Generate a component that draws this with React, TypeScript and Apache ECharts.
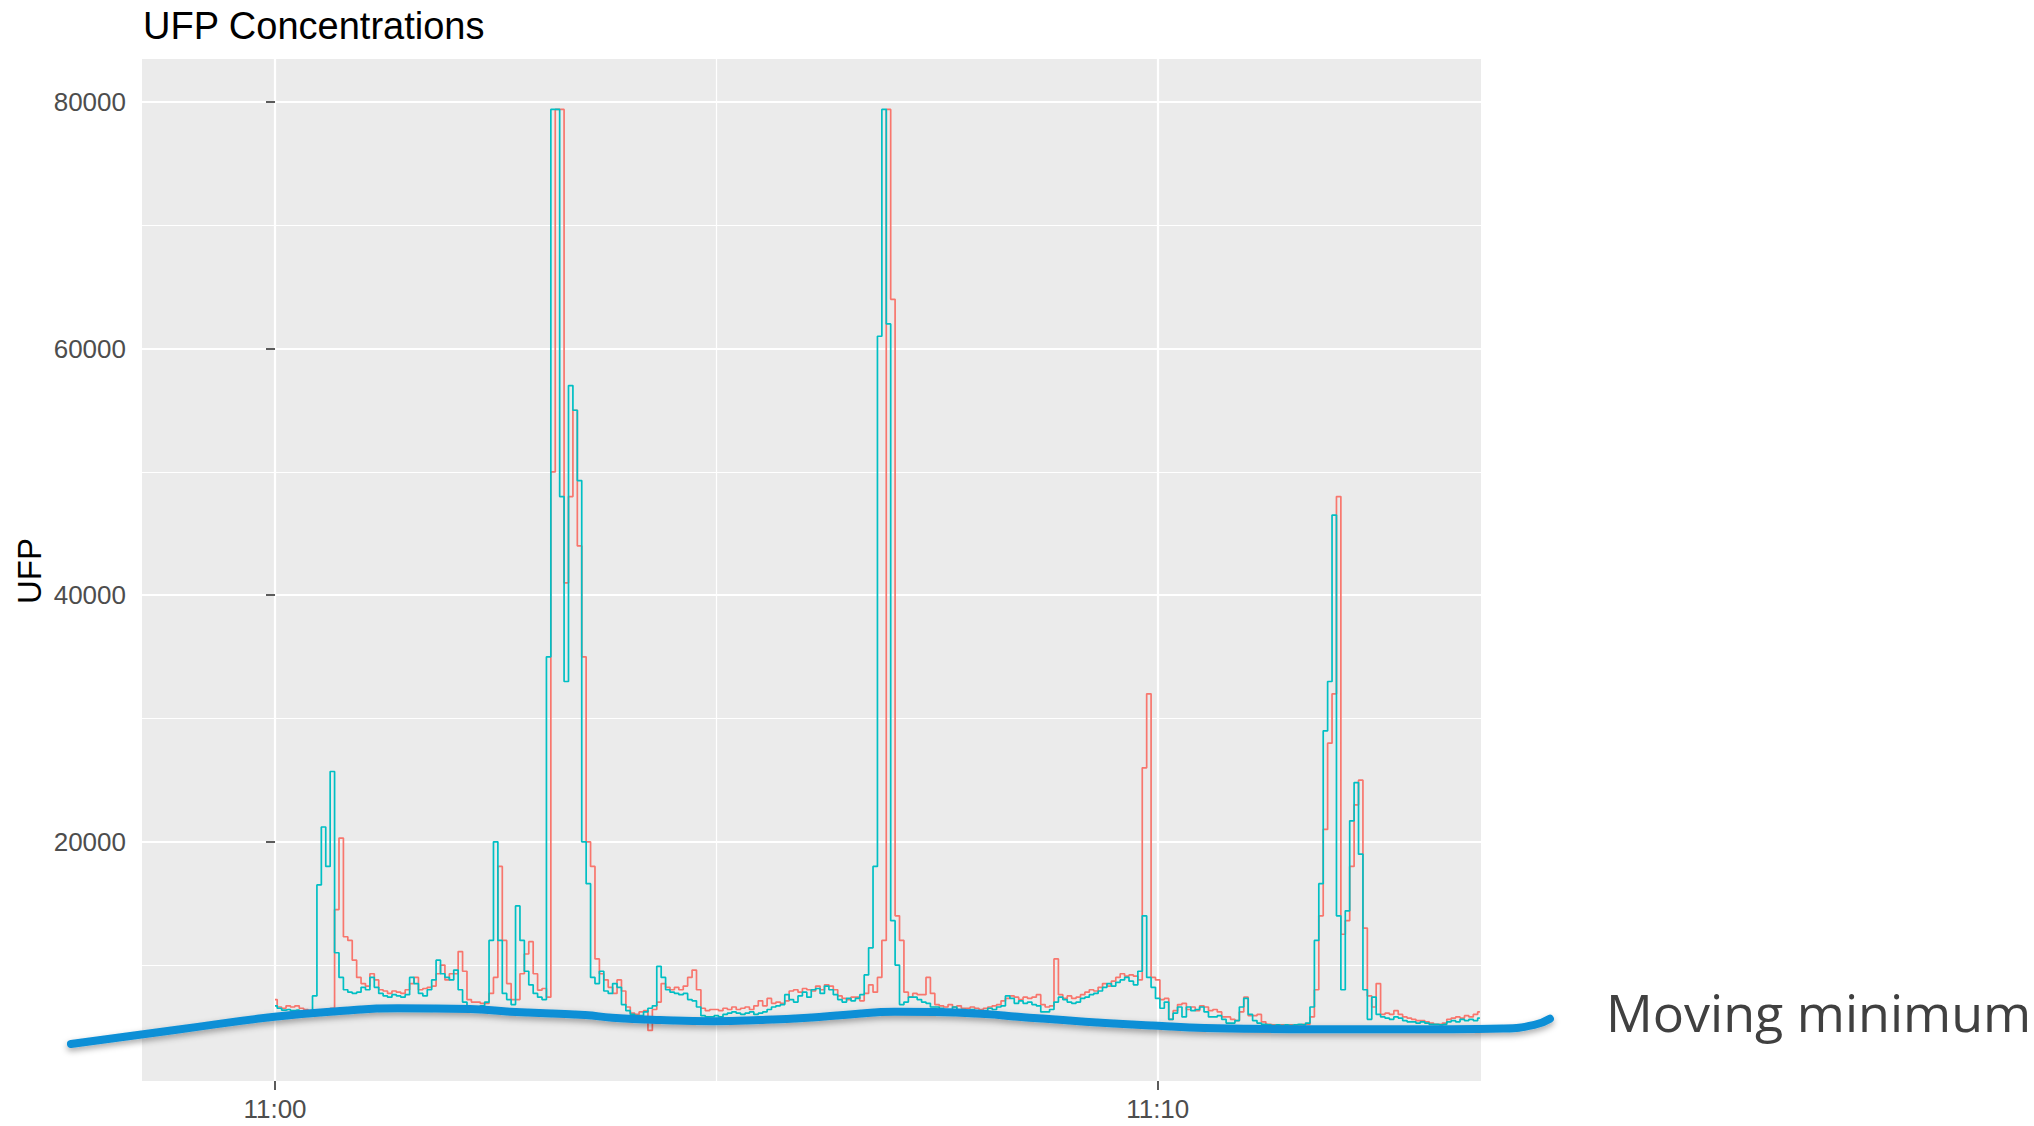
import React, { useEffect, useRef } from 'react';
import * as echarts from 'echarts';

// Sampling grid of the two UFP series: seconds after 11:00:00, every 3 s
const SAMPLE_STEP_S = 3;

// Red series (first sensor)
const redUFP = [
  7200, 6600, 6500, 6700, 6600, 6700, 6500, 6400, 6300, 6300,
  6200, 6200, 6300, 6500, 14500, 20300, 12300, 12000, 10400, 9000,
  8500, 8300, 9300, 8800, 8000, 7900, 7700, 7900, 7800, 7700,
  8000, 8500, 9000, 8000, 8100, 8200, 8300, 9300, 10000, 8800,
  9300, 9300, 11100, 9500, 7200, 7000, 7000, 6900, 6900, 7700,
  9000, 18000, 12000, 8500, 7200, 7200, 9300, 10900, 11900, 9300,
  7970, 8100, 7400, 50000, 79400, 79400, 41000, 48000, 55000, 44000,
  35000, 20000, 18000, 10500, 9300, 8800, 8200, 7700, 8800, 7900,
  6600, 6100, 6000, 6200, 6300, 4700, 6400, 7000, 8500, 8200,
  8000, 8200, 8000, 8300, 9000, 9600, 8000, 6500, 6300, 6400,
  6400, 6300, 6500, 6400, 6600, 6400, 6500, 6600, 6400, 6700,
  7100, 6700, 7300, 6900, 7000, 6900, 7100, 7900, 8000, 7800,
  8100, 8000, 7900, 8300, 8000, 8400, 8300, 8000, 7500, 7300,
  7200, 7400, 7400, 7100, 7700, 8400, 7800, 9000, 12000, 79400,
  64000, 14000, 12000, 7800, 7400, 7700, 7600, 7600, 9000, 7700,
  6800, 6700, 6600, 6800, 6600, 6700, 6500, 6500, 6600, 6500,
  6400, 6500, 6600, 6700, 6800, 7100, 7300, 7500, 7400, 7200,
  7400, 7300, 7400, 7600, 6800, 6600, 6700, 10500, 7600, 7300,
  7500, 7300, 7400, 7600, 7800, 8000, 7900, 8200, 8500, 8300,
  8700, 9000, 9300, 9100, 9200, 9100, 8800, 26000, 32000, 9000,
  8800, 7200, 7300, 5600, 6300, 6800, 6900, 6400, 6600, 6300,
  6700, 6600, 6300, 6400, 6200, 5800, 5800, 5600, 5500, 6200,
  7400, 5900, 5900, 6000, 5400, 5200, 5150, 5100, 5150, 5100,
  5150, 5100, 5150, 5200, 5200, 5800, 8000, 14000, 21000, 28000,
  32000, 48000, 12500, 13600, 18000, 23000, 25000, 13000, 7500, 6600,
  8500, 6000, 6100, 6000, 6300, 6000, 5800, 5700, 5600, 5500,
  5500, 5400, 5300, 5200, 5200, 5300, 5600, 5700, 5800, 5700,
  5900, 5800, 6000, 6200,
];

// Teal series (second sensor)
const tealUFP = [
  6700, 6500, 6350, 6400, 6300, 6350, 6250, 6200, 6150, 7500,
  16500, 21200, 18000, 25700, 11000, 9000, 8000, 7800, 7700, 7800,
  8200, 8000, 9000, 8200, 7700, 7500, 7400, 7600, 7500, 7400,
  7600, 9000, 8500, 7700, 7500, 8000, 8800, 10400, 9300, 9000,
  8800, 9600, 8000, 7000, 6600, 6600, 6600, 6700, 7000, 12000,
  20000, 12000, 7700, 7200, 6800, 14800, 12000, 9500, 8400, 7700,
  7400, 7200, 35000, 79400, 79400, 48000, 33000, 57000, 55000, 49300,
  20000, 16600, 9000, 8500, 9500, 7900, 7700, 8500, 8200, 6800,
  6300, 6000, 5900, 5900, 6200, 6500, 6700, 9900, 9000, 8000,
  7800, 7700, 7600, 7700, 7200, 7100, 6600, 5900, 5800, 5800,
  5900, 5800, 6000, 6100, 6200, 6100, 6000, 6100, 6200, 6000,
  6100, 6200, 6400, 6600, 6700, 6800, 7600, 7200, 7000, 7500,
  7800, 7400, 8000, 8100, 7700, 8300, 8000, 7600, 7200, 7000,
  7300, 7100, 7300, 7600, 9200, 11400, 18000, 61000, 79400, 62000,
  13600, 10000, 6800, 7000, 7400, 7400, 7200, 7000, 6900, 6600,
  6600, 6500, 6400, 6400, 6600, 6400, 6400, 6300, 6400, 6300,
  6200, 6300, 6500, 6400, 6600, 6700, 7500, 7300, 6900, 7100,
  6900, 7000, 6800, 6700, 6200, 6200, 6400, 7000, 7400, 7200,
  7000, 6900, 7000, 7300, 7400, 7600, 7700, 7900, 8200, 8500,
  8300, 8600, 8800, 9000, 8700, 8400, 9500, 14000, 9000, 8200,
  7300, 6500, 7000, 5600, 6100, 6600, 5800, 6600, 6300, 6400,
  6600, 6200, 5800, 5800, 5900, 5600, 5300, 5300, 5500, 6600,
  7300, 6000, 5500, 5300, 5200, 5150, 5100, 5150, 5100, 5150,
  5100, 5150, 5200, 5150, 5300, 6600, 12000, 16600, 29000, 33000,
  46500, 14000, 8000, 14400, 21700, 24800, 19000, 8000, 5600, 7400,
  6000, 5800, 5700, 5600, 5800, 5700, 5500, 5400, 5400, 5300,
  5400, 5300, 5200, 5200, 5150, 5200, 5400, 5500, 5400, 5600,
  5500, 5600, 5500, 5700,
];

// Hand-drawn "moving minimum" annotation curve (seconds after 11:00, UFP)
const minCurveT = [-138.7, -68, -0.3, 44.2, 83.6, 132.5, 159.7, 210.7, 229.1, 261.7, 298.4, 329.7, 362.3, 390.8, 421.4, 448.6, 482.6, 505, 550.6, 600, 632.1, 715.7, 800, 835, 856, 866.6];
const minCurveV = [3601, 4736, 5815, 6277, 6496, 6440, 6221, 5953, 5734, 5547, 5450, 5547, 5734, 5994, 6221, 6196, 6034, 5815, 5410, 5085, 4899, 4793, 4790, 4850, 5150, 5650];

// Axis ticks
const xTickSeconds = [0, 600];
const xTickLabels = ['11:00', '11:10'];
const xMinorSeconds = [300];
const yTicks = [20000, 40000, 60000, 80000];
const yMinor = [10000, 30000, 50000, 70000];

const X_MIN = -90.4;
const X_MAX = 819.75;
const Y_MIN = 600;
const Y_MAX = 83487;

const W = 2034;
const H = 1126;
const G_LEFT = 142;
const G_RIGHT = 553;
const G_TOP = 59;
const G_BOTTOM = 45;

const FONT = "'Liberation Sans', Arial, Helvetica, sans-serif";

export default function App() {
  const ref = useRef<HTMLDivElement>(null);

  useEffect(() => {
    const chart = echarts.init(ref.current!, null, { renderer: 'svg' });
    const toPairs = (vals: number[]) => vals.map((v, i) => [i * SAMPLE_STEP_S, v]);
    const curve = minCurveT.map((t, i) => [t, minCurveV[i]]);

    // Full-page overlay grid using the same data scale as the plot panel,
    // so the annotation curve may run past the panel edges.
    const sx = (W - G_LEFT - G_RIGHT) / (X_MAX - X_MIN);
    const sy = (H - G_TOP - G_BOTTOM) / (Y_MAX - Y_MIN);
    const OX_MIN = X_MIN - G_LEFT / sx;
    const OX_MAX = X_MAX + G_RIGHT / sx;
    const OY_MIN = Y_MIN - G_BOTTOM / sy;
    const OY_MAX = Y_MAX + G_TOP / sy;

    chart.setOption({
      animation: false,
      backgroundColor: '#ffffff',
      title: {
        text: 'UFP Concentrations',
        left: 143,
        top: 7,
        padding: 0,
        textStyle: { fontFamily: FONT, fontSize: 38, fontWeight: 'normal', color: '#000000' },
      },
      grid: [
        {
          left: G_LEFT,
          right: G_RIGHT,
          top: G_TOP,
          bottom: G_BOTTOM,
          show: true,
          backgroundColor: '#EBEBEB',
          borderWidth: 0,
          borderColor: 'transparent',
          outerBoundsMode: 'none',
          containLabel: false,
        },
        {
          left: 0,
          right: 0,
          top: 0,
          bottom: 0,
          show: false,
          outerBoundsMode: 'none',
          containLabel: false,
        },
      ],
      xAxis: [
        {
          type: 'value',
          gridIndex: 0,
          min: X_MIN,
          max: X_MAX,
          position: 'bottom',
          axisLine: { show: false },
          axisTick: {
            show: true,
            length: 9,
            customValues: xTickSeconds,
            lineStyle: { color: '#333333', width: 1.6 },
          },
          axisLabel: {
            show: true,
            customValues: xTickSeconds,
            formatter: (v: number) => {
              const i = xTickSeconds.indexOf(v);
              return i >= 0 ? xTickLabels[i] : '';
            },
            color: '#4D4D4D',
            fontSize: 26,
            fontFamily: FONT,
            margin: 15,
          },
          splitLine: { show: true, lineStyle: { color: '#FFFFFF', width: 2.2 } },
        },
        {
          type: 'value',
          gridIndex: 0,
          min: X_MIN,
          max: X_MAX,
          position: 'bottom',
          axisLine: { show: false },
          axisTick: { show: false, customValues: xMinorSeconds },
          axisLabel: { show: false, customValues: xMinorSeconds },
          splitLine: { show: true, lineStyle: { color: '#FFFFFF', width: 1.2 } },
        },
        {
          type: 'value',
          gridIndex: 1,
          min: OX_MIN,
          max: OX_MAX,
          show: false,
          splitLine: { show: false },
        },
      ],
      yAxis: [
        {
          type: 'value',
          gridIndex: 0,
          min: Y_MIN,
          max: Y_MAX,
          position: 'left',
          axisLine: { show: false },
          axisTick: {
            show: true,
            length: 9,
            customValues: yTicks,
            lineStyle: { color: '#333333', width: 1.6 },
          },
          axisLabel: {
            show: true,
            customValues: yTicks,
            formatter: (v: number) => String(v),
            color: '#4D4D4D',
            fontSize: 26,
            fontFamily: FONT,
            margin: 16,
          },
          splitLine: { show: true, lineStyle: { color: '#FFFFFF', width: 2.2 } },
        },
        {
          type: 'value',
          gridIndex: 0,
          min: Y_MIN,
          max: Y_MAX,
          position: 'left',
          axisLine: { show: false },
          axisTick: { show: false, customValues: yMinor },
          axisLabel: { show: false, customValues: yMinor },
          splitLine: { show: true, lineStyle: { color: '#FFFFFF', width: 1.2 } },
        },
        {
          type: 'value',
          gridIndex: 1,
          min: OY_MIN,
          max: OY_MAX,
          show: false,
          splitLine: { show: false },
        },
      ],
      series: [
        {
          name: 'red',
          type: 'line',
          xAxisIndex: 0,
          yAxisIndex: 0,
          data: toPairs(redUFP),
          step: 'middle',
          symbol: 'none',
          lineStyle: { color: '#F8766D', width: 1.7 },
          z: 2,
          silent: true,
        },
        {
          name: 'teal',
          type: 'line',
          xAxisIndex: 0,
          yAxisIndex: 0,
          data: toPairs(tealUFP),
          step: 'middle',
          symbol: 'none',
          lineStyle: { color: '#00BFC4', width: 1.7 },
          z: 3,
          silent: true,
        },
        {
          name: 'Moving minimum',
          type: 'line',
          xAxisIndex: 2,
          yAxisIndex: 2,
          data: curve,
          smooth: 0.5,
          clip: false,
          symbol: 'none',
          lineStyle: {
            color: '#0E8FD6',
            width: 8,
            cap: 'round',
            shadowColor: 'rgba(0,0,0,0.35)',
            shadowBlur: 6,
            shadowOffsetY: 3,
          },
          z: 5,
          silent: true,
        },
      ],
      graphic: [
        {
          type: 'text',
          x: 29,
          y: 571,
          rotation: Math.PI / 2,
          silent: true,
          style: {
            text: 'UFP',
            fill: '#000000',
            fontSize: 33,
            fontFamily: FONT,
            align: 'center',
            verticalAlign: 'middle',
          },
        },
        {
          type: 'text',
          x: 1606,
          y: 1011,
          silent: true,
          style: {
            text: 'Moving minimum',
            fill: '#404040',
            fontSize: 52,
            fontFamily: "'Open Sans', 'Noto Sans', sans-serif",
            align: 'left',
            verticalAlign: 'middle',
          },
        },
      ],
    });

    return () => chart.dispose();
  }, []);

  return (
    <div
      ref={ref}
      style={{ position: 'fixed', left: 0, top: 0, width: W, height: H }}
    />
  );
}
